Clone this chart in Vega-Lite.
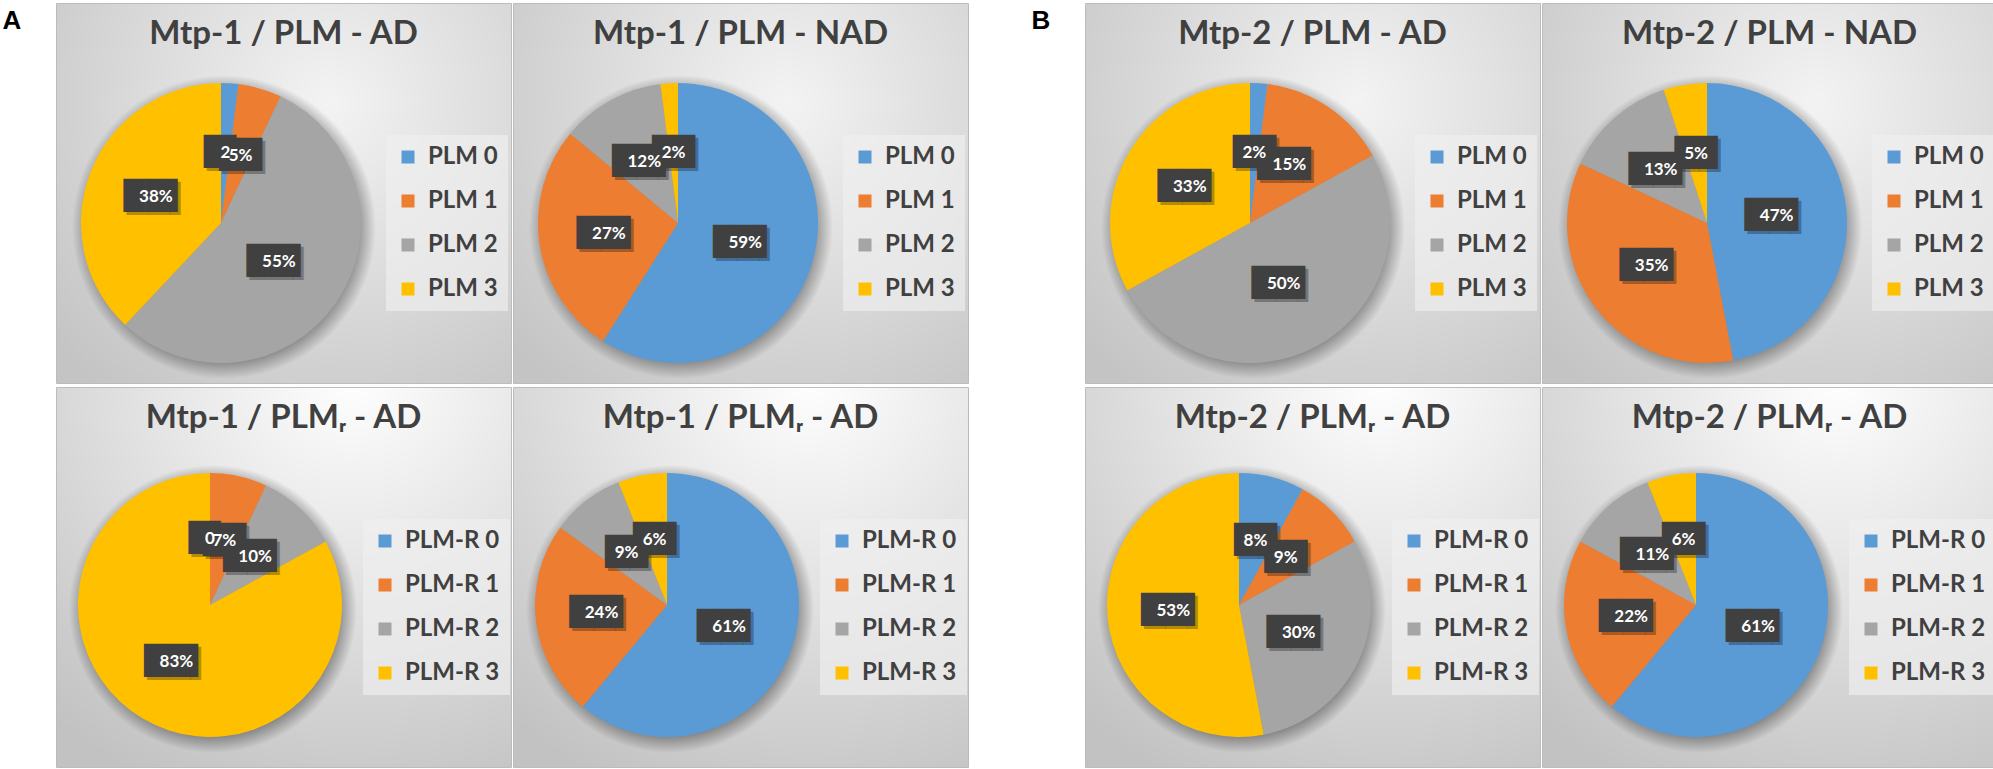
{
  "$schema": "https://vega.github.io/schema/vega-lite/v6.json",
  "background": "white",
  "padding": {"left": 2, "top": 2, "right": 0, "bottom": 0},
  "config": {
    "title": {"font": "Lato", "fontSize": 33, "fontWeight": "bold", "color": "#404040", "anchor": "middle", "baseline": "alphabetic"},
    "legend": {
      "orient": "none", "legendY": 132, "symbolType": "square", "symbolSize": 169, "symbolStrokeWidth": 0, "symbolOpacity": 1,
      "labelFont": "Lato", "labelFontSize": 24, "labelFontWeight": "bold", "labelColor": "#404040", "labelOffset": 8,
      "rowPadding": 20, "padding": 10, "fillColor": "rgba(240,240,240,0.65)"
    }
  },
  "hconcat": [
    {
      "title": {"text": "A", "orient": "top", "anchor": "start", "dx": -53, "offset": -31, "font": "Liberation Sans", "fontSize": 26, "fontWeight": "bold", "color": "#000000"},
      "spacing": 2,
      "resolve": {"scale": {"color": "independent", "theta": "independent"}, "legend": {"color": "independent"}},
      "vconcat": [
        {
          "spacing": 0,
          "resolve": {"scale": {"color": "independent", "theta": "independent"}, "legend": {"color": "independent"}},
          "hconcat": [
            {
              "width": 455, "height": 380,
              "view": {"stroke": "#bcbcbc", "fill": {"gradient": "radial", "x1": 0.6, "y1": 0.3, "r1": 0, "x2": 0.6, "y2": 0.3, "r2": 0.8, "stops": [{"offset": 0, "color": "#f3f3f3"}, {"offset": 1, "color": "#c4c4c4"}]}},
              "title": {"text": "Mtp-1 / PLM - AD", "offset": -48},
              "data": {"values": [
                {"cat": "PLM 0", "value": 2, "label": "2"},
                {"cat": "PLM 1", "value": 5, "label": "5%"},
                {"cat": "PLM 2", "value": 55, "label": "55%"},
                {"cat": "PLM 3", "value": 38, "label": "38%"}
              ]},
              "layer": [
                {"data": {"values": [{"k": "shadow"}]}, "mark": {"type": "arc", "theta": 6.2832, "radius": 152, "x": 168, "y": 224, "color": {"gradient": "radial", "x1": 0.5, "y1": 0.5, "r1": 0, "x2": 0.5, "y2": 0.5, "r2": 0.5, "stops": [{"offset": 0.88, "color": "rgba(0,0,0,0.35)"}, {"offset": 1, "color": "rgba(0,0,0,0)"}]}}},
                {"mark": {"type": "arc", "radius": 140, "x": 165, "y": 220},
                 "encoding": {"theta": {"field": "value", "type": "quantitative", "stack": true}, "order": {"field": "cat"},
                   "color": {"field": "cat", "type": "nominal", "scale": {"domain": ["PLM 0", "PLM 1", "PLM 2", "PLM 3"], "range": ["#5B9BD5", "#ED7D31", "#A5A5A5", "#FFC000"]}, "legend": {"title": null, "legendX": 330}}}},
                {"mark": {"type": "text", "radius": 70, "x": 165, "y": 220, "dx": 3, "dy": 3, "font": "DejaVu Sans", "fontSize": 28, "align": "center", "baseline": "middle", "color": "rgba(0,0,0,0.28)"},
                 "encoding": {"theta": {"field": "value", "type": "quantitative", "stack": true}, "order": {"field": "cat"},
                   "text": {"condition": [{"test": "length(datum.label) > 2", "value": "\u2588\u2588\u258c"}, {"test": "length(datum.label) > 1", "value": "\u2588\u2588"}], "value": "\u2588\u258c"}}},
                {"mark": {"type": "text", "radius": 70, "x": 165, "y": 220, "font": "DejaVu Sans", "fontSize": 28, "align": "center", "baseline": "middle", "color": "#404040"},
                 "encoding": {"theta": {"field": "value", "type": "quantitative", "stack": true}, "order": {"field": "cat"},
                   "text": {"condition": [{"test": "length(datum.label) > 2", "value": "\u2588\u2588\u258c"}, {"test": "length(datum.label) > 1", "value": "\u2588\u2588"}], "value": "\u2588\u258c"}}},
                {"mark": {"type": "text", "radius": 70, "x": 165, "y": 220, "font": "Lato", "fontSize": 17, "fontWeight": "bold", "align": "center", "baseline": "middle", "color": "#ffffff"},
                 "encoding": {"theta": {"field": "value", "type": "quantitative", "stack": true}, "order": {"field": "cat"}, "text": {"field": "label"}}}
              ]
            },
            {
              "width": 455, "height": 380,
              "view": {"stroke": "#bcbcbc", "fill": {"gradient": "radial", "x1": 0.6, "y1": 0.3, "r1": 0, "x2": 0.6, "y2": 0.3, "r2": 0.8, "stops": [{"offset": 0, "color": "#f3f3f3"}, {"offset": 1, "color": "#c4c4c4"}]}},
              "title": {"text": "Mtp-1 / PLM - NAD", "offset": -48},
              "data": {"values": [
                {"cat": "PLM 0", "value": 59, "label": "59%"},
                {"cat": "PLM 1", "value": 27, "label": "27%"},
                {"cat": "PLM 2", "value": 12, "label": "12%"},
                {"cat": "PLM 3", "value": 2, "label": "2%"}
              ]},
              "layer": [
                {"data": {"values": [{"k": "shadow"}]}, "mark": {"type": "arc", "theta": 6.2832, "radius": 152, "x": 168, "y": 224, "color": {"gradient": "radial", "x1": 0.5, "y1": 0.5, "r1": 0, "x2": 0.5, "y2": 0.5, "r2": 0.5, "stops": [{"offset": 0.88, "color": "rgba(0,0,0,0.35)"}, {"offset": 1, "color": "rgba(0,0,0,0)"}]}}},
                {"mark": {"type": "arc", "radius": 140, "x": 165, "y": 220},
                 "encoding": {"theta": {"field": "value", "type": "quantitative", "stack": true}, "order": {"field": "cat"},
                   "color": {"field": "cat", "type": "nominal", "scale": {"domain": ["PLM 0", "PLM 1", "PLM 2", "PLM 3"], "range": ["#5B9BD5", "#ED7D31", "#A5A5A5", "#FFC000"]}, "legend": {"title": null, "legendX": 330}}}},
                {"mark": {"type": "text", "radius": 70, "x": 165, "y": 220, "dx": 3, "dy": 3, "font": "DejaVu Sans", "fontSize": 28, "align": "center", "baseline": "middle", "color": "rgba(0,0,0,0.28)"},
                 "encoding": {"theta": {"field": "value", "type": "quantitative", "stack": true}, "order": {"field": "cat"},
                   "text": {"condition": [{"test": "length(datum.label) > 2", "value": "\u2588\u2588\u258c"}, {"test": "length(datum.label) > 1", "value": "\u2588\u2588"}], "value": "\u2588\u258c"}}},
                {"mark": {"type": "text", "radius": 70, "x": 165, "y": 220, "font": "DejaVu Sans", "fontSize": 28, "align": "center", "baseline": "middle", "color": "#404040"},
                 "encoding": {"theta": {"field": "value", "type": "quantitative", "stack": true}, "order": {"field": "cat"},
                   "text": {"condition": [{"test": "length(datum.label) > 2", "value": "\u2588\u2588\u258c"}, {"test": "length(datum.label) > 1", "value": "\u2588\u2588"}], "value": "\u2588\u258c"}}},
                {"mark": {"type": "text", "radius": 70, "x": 165, "y": 220, "font": "Lato", "fontSize": 17, "fontWeight": "bold", "align": "center", "baseline": "middle", "color": "#ffffff"},
                 "encoding": {"theta": {"field": "value", "type": "quantitative", "stack": true}, "order": {"field": "cat"}, "text": {"field": "label"}}}
              ]
            }
          ]
        },
        {
          "spacing": 0,
          "resolve": {"scale": {"color": "independent", "theta": "independent"}, "legend": {"color": "independent"}},
          "hconcat": [
            {
              "width": 455, "height": 380,
              "view": {"stroke": "#bcbcbc", "fill": {"gradient": "radial", "x1": 0.65, "y1": 0.05, "r1": 0, "x2": 0.65, "y2": 0.05, "r2": 1, "stops": [{"offset": 0, "color": "#ffffff"}, {"offset": 1, "color": "#c2c2c2"}]}},
              "title": {"text": "Mtp-1 / PLMᵣ - AD", "offset": -48},
              "data": {"values": [
                {"cat": "PLM-R 0", "value": 0, "label": "0"},
                {"cat": "PLM-R 1", "value": 7, "label": "7%"},
                {"cat": "PLM-R 2", "value": 10, "label": "10%"},
                {"cat": "PLM-R 3", "value": 83, "label": "83%"}
              ]},
              "layer": [
                {"data": {"values": [{"k": "shadow"}]}, "mark": {"type": "arc", "theta": 6.2832, "radius": 144, "x": 157, "y": 222, "color": {"gradient": "radial", "x1": 0.5, "y1": 0.5, "r1": 0, "x2": 0.5, "y2": 0.5, "r2": 0.5, "stops": [{"offset": 0.88, "color": "rgba(0,0,0,0.35)"}, {"offset": 1, "color": "rgba(0,0,0,0)"}]}}},
                {"mark": {"type": "arc", "radius": 132, "x": 154, "y": 218},
                 "encoding": {"theta": {"field": "value", "type": "quantitative", "stack": true}, "order": {"field": "cat"},
                   "color": {"field": "cat", "type": "nominal", "scale": {"domain": ["PLM-R 0", "PLM-R 1", "PLM-R 2", "PLM-R 3"], "range": ["#5B9BD5", "#ED7D31", "#A5A5A5", "#FFC000"]}, "legend": {"title": null, "legendX": 307}}}},
                {"mark": {"type": "text", "radius": 66, "x": 154, "y": 218, "dx": 3, "dy": 3, "font": "DejaVu Sans", "fontSize": 28, "align": "center", "baseline": "middle", "color": "rgba(0,0,0,0.28)"},
                 "encoding": {"theta": {"field": "value", "type": "quantitative", "stack": true}, "order": {"field": "cat"},
                   "text": {"condition": [{"test": "length(datum.label) > 2", "value": "\u2588\u2588\u258c"}, {"test": "length(datum.label) > 1", "value": "\u2588\u2588"}], "value": "\u2588\u258c"}}},
                {"mark": {"type": "text", "radius": 66, "x": 154, "y": 218, "font": "DejaVu Sans", "fontSize": 28, "align": "center", "baseline": "middle", "color": "#404040"},
                 "encoding": {"theta": {"field": "value", "type": "quantitative", "stack": true}, "order": {"field": "cat"},
                   "text": {"condition": [{"test": "length(datum.label) > 2", "value": "\u2588\u2588\u258c"}, {"test": "length(datum.label) > 1", "value": "\u2588\u2588"}], "value": "\u2588\u258c"}}},
                {"mark": {"type": "text", "radius": 66, "x": 154, "y": 218, "font": "Lato", "fontSize": 17, "fontWeight": "bold", "align": "center", "baseline": "middle", "color": "#ffffff"},
                 "encoding": {"theta": {"field": "value", "type": "quantitative", "stack": true}, "order": {"field": "cat"}, "text": {"field": "label"}}}
              ]
            },
            {
              "width": 455, "height": 380,
              "view": {"stroke": "#bcbcbc", "fill": {"gradient": "radial", "x1": 0.65, "y1": 0.05, "r1": 0, "x2": 0.65, "y2": 0.05, "r2": 1, "stops": [{"offset": 0, "color": "#ffffff"}, {"offset": 1, "color": "#c2c2c2"}]}},
              "title": {"text": "Mtp-1 / PLMᵣ - AD", "offset": -48},
              "data": {"values": [
                {"cat": "PLM-R 0", "value": 61, "label": "61%"},
                {"cat": "PLM-R 1", "value": 24, "label": "24%"},
                {"cat": "PLM-R 2", "value": 9, "label": "9%"},
                {"cat": "PLM-R 3", "value": 6, "label": "6%"}
              ]},
              "layer": [
                {"data": {"values": [{"k": "shadow"}]}, "mark": {"type": "arc", "theta": 6.2832, "radius": 144, "x": 157, "y": 222, "color": {"gradient": "radial", "x1": 0.5, "y1": 0.5, "r1": 0, "x2": 0.5, "y2": 0.5, "r2": 0.5, "stops": [{"offset": 0.88, "color": "rgba(0,0,0,0.35)"}, {"offset": 1, "color": "rgba(0,0,0,0)"}]}}},
                {"mark": {"type": "arc", "radius": 132, "x": 154, "y": 218},
                 "encoding": {"theta": {"field": "value", "type": "quantitative", "stack": true}, "order": {"field": "cat"},
                   "color": {"field": "cat", "type": "nominal", "scale": {"domain": ["PLM-R 0", "PLM-R 1", "PLM-R 2", "PLM-R 3"], "range": ["#5B9BD5", "#ED7D31", "#A5A5A5", "#FFC000"]}, "legend": {"title": null, "legendX": 307}}}},
                {"mark": {"type": "text", "radius": 66, "x": 154, "y": 218, "dx": 3, "dy": 3, "font": "DejaVu Sans", "fontSize": 28, "align": "center", "baseline": "middle", "color": "rgba(0,0,0,0.28)"},
                 "encoding": {"theta": {"field": "value", "type": "quantitative", "stack": true}, "order": {"field": "cat"},
                   "text": {"condition": [{"test": "length(datum.label) > 2", "value": "\u2588\u2588\u258c"}, {"test": "length(datum.label) > 1", "value": "\u2588\u2588"}], "value": "\u2588\u258c"}}},
                {"mark": {"type": "text", "radius": 66, "x": 154, "y": 218, "font": "DejaVu Sans", "fontSize": 28, "align": "center", "baseline": "middle", "color": "#404040"},
                 "encoding": {"theta": {"field": "value", "type": "quantitative", "stack": true}, "order": {"field": "cat"},
                   "text": {"condition": [{"test": "length(datum.label) > 2", "value": "\u2588\u2588\u258c"}, {"test": "length(datum.label) > 1", "value": "\u2588\u2588"}], "value": "\u2588\u258c"}}},
                {"mark": {"type": "text", "radius": 66, "x": 154, "y": 218, "font": "Lato", "fontSize": 17, "fontWeight": "bold", "align": "center", "baseline": "middle", "color": "#ffffff"},
                 "encoding": {"theta": {"field": "value", "type": "quantitative", "stack": true}, "order": {"field": "cat"}, "text": {"field": "label"}}}
              ]
            }
          ]
        }
      ]
    },
    {
      "title": {"text": "B", "orient": "top", "anchor": "start", "dx": -53, "offset": -31, "font": "Liberation Sans", "fontSize": 26, "fontWeight": "bold", "color": "#000000"},
      "spacing": 2,
      "resolve": {"scale": {"color": "independent", "theta": "independent"}, "legend": {"color": "independent"}},
      "vconcat": [
        {
          "spacing": 0,
          "resolve": {"scale": {"color": "independent", "theta": "independent"}, "legend": {"color": "independent"}},
          "hconcat": [
            {
              "width": 455, "height": 380,
              "view": {"stroke": "#bcbcbc", "fill": {"gradient": "radial", "x1": 0.6, "y1": 0.3, "r1": 0, "x2": 0.6, "y2": 0.3, "r2": 0.8, "stops": [{"offset": 0, "color": "#f3f3f3"}, {"offset": 1, "color": "#c4c4c4"}]}},
              "title": {"text": "Mtp-2 / PLM - AD", "offset": -48},
              "data": {"values": [
                {"cat": "PLM 0", "value": 2, "label": "2%"},
                {"cat": "PLM 1", "value": 15, "label": "15%"},
                {"cat": "PLM 2", "value": 50, "label": "50%"},
                {"cat": "PLM 3", "value": 33, "label": "33%"}
              ]},
              "layer": [
                {"data": {"values": [{"k": "shadow"}]}, "mark": {"type": "arc", "theta": 6.2832, "radius": 152, "x": 168, "y": 224, "color": {"gradient": "radial", "x1": 0.5, "y1": 0.5, "r1": 0, "x2": 0.5, "y2": 0.5, "r2": 0.5, "stops": [{"offset": 0.88, "color": "rgba(0,0,0,0.35)"}, {"offset": 1, "color": "rgba(0,0,0,0)"}]}}},
                {"mark": {"type": "arc", "radius": 140, "x": 165, "y": 220},
                 "encoding": {"theta": {"field": "value", "type": "quantitative", "stack": true}, "order": {"field": "cat"},
                   "color": {"field": "cat", "type": "nominal", "scale": {"domain": ["PLM 0", "PLM 1", "PLM 2", "PLM 3"], "range": ["#5B9BD5", "#ED7D31", "#A5A5A5", "#FFC000"]}, "legend": {"title": null, "legendX": 330}}}},
                {"mark": {"type": "text", "radius": 70, "x": 165, "y": 220, "dx": 3, "dy": 3, "font": "DejaVu Sans", "fontSize": 28, "align": "center", "baseline": "middle", "color": "rgba(0,0,0,0.28)"},
                 "encoding": {"theta": {"field": "value", "type": "quantitative", "stack": true}, "order": {"field": "cat"},
                   "text": {"condition": [{"test": "length(datum.label) > 2", "value": "\u2588\u2588\u258c"}, {"test": "length(datum.label) > 1", "value": "\u2588\u2588"}], "value": "\u2588\u258c"}}},
                {"mark": {"type": "text", "radius": 70, "x": 165, "y": 220, "font": "DejaVu Sans", "fontSize": 28, "align": "center", "baseline": "middle", "color": "#404040"},
                 "encoding": {"theta": {"field": "value", "type": "quantitative", "stack": true}, "order": {"field": "cat"},
                   "text": {"condition": [{"test": "length(datum.label) > 2", "value": "\u2588\u2588\u258c"}, {"test": "length(datum.label) > 1", "value": "\u2588\u2588"}], "value": "\u2588\u258c"}}},
                {"mark": {"type": "text", "radius": 70, "x": 165, "y": 220, "font": "Lato", "fontSize": 17, "fontWeight": "bold", "align": "center", "baseline": "middle", "color": "#ffffff"},
                 "encoding": {"theta": {"field": "value", "type": "quantitative", "stack": true}, "order": {"field": "cat"}, "text": {"field": "label"}}}
              ]
            },
            {
              "width": 455, "height": 380,
              "view": {"stroke": "#bcbcbc", "fill": {"gradient": "radial", "x1": 0.6, "y1": 0.3, "r1": 0, "x2": 0.6, "y2": 0.3, "r2": 0.8, "stops": [{"offset": 0, "color": "#f3f3f3"}, {"offset": 1, "color": "#c4c4c4"}]}},
              "title": {"text": "Mtp-2 / PLM - NAD", "offset": -48},
              "data": {"values": [
                {"cat": "PLM 0", "value": 47, "label": "47%"},
                {"cat": "PLM 1", "value": 35, "label": "35%"},
                {"cat": "PLM 2", "value": 13, "label": "13%"},
                {"cat": "PLM 3", "value": 5, "label": "5%"}
              ]},
              "layer": [
                {"data": {"values": [{"k": "shadow"}]}, "mark": {"type": "arc", "theta": 6.2832, "radius": 152, "x": 168, "y": 224, "color": {"gradient": "radial", "x1": 0.5, "y1": 0.5, "r1": 0, "x2": 0.5, "y2": 0.5, "r2": 0.5, "stops": [{"offset": 0.88, "color": "rgba(0,0,0,0.35)"}, {"offset": 1, "color": "rgba(0,0,0,0)"}]}}},
                {"mark": {"type": "arc", "radius": 140, "x": 165, "y": 220},
                 "encoding": {"theta": {"field": "value", "type": "quantitative", "stack": true}, "order": {"field": "cat"},
                   "color": {"field": "cat", "type": "nominal", "scale": {"domain": ["PLM 0", "PLM 1", "PLM 2", "PLM 3"], "range": ["#5B9BD5", "#ED7D31", "#A5A5A5", "#FFC000"]}, "legend": {"title": null, "legendX": 330}}}},
                {"mark": {"type": "text", "radius": 70, "x": 165, "y": 220, "dx": 3, "dy": 3, "font": "DejaVu Sans", "fontSize": 28, "align": "center", "baseline": "middle", "color": "rgba(0,0,0,0.28)"},
                 "encoding": {"theta": {"field": "value", "type": "quantitative", "stack": true}, "order": {"field": "cat"},
                   "text": {"condition": [{"test": "length(datum.label) > 2", "value": "\u2588\u2588\u258c"}, {"test": "length(datum.label) > 1", "value": "\u2588\u2588"}], "value": "\u2588\u258c"}}},
                {"mark": {"type": "text", "radius": 70, "x": 165, "y": 220, "font": "DejaVu Sans", "fontSize": 28, "align": "center", "baseline": "middle", "color": "#404040"},
                 "encoding": {"theta": {"field": "value", "type": "quantitative", "stack": true}, "order": {"field": "cat"},
                   "text": {"condition": [{"test": "length(datum.label) > 2", "value": "\u2588\u2588\u258c"}, {"test": "length(datum.label) > 1", "value": "\u2588\u2588"}], "value": "\u2588\u258c"}}},
                {"mark": {"type": "text", "radius": 70, "x": 165, "y": 220, "font": "Lato", "fontSize": 17, "fontWeight": "bold", "align": "center", "baseline": "middle", "color": "#ffffff"},
                 "encoding": {"theta": {"field": "value", "type": "quantitative", "stack": true}, "order": {"field": "cat"}, "text": {"field": "label"}}}
              ]
            }
          ]
        },
        {
          "spacing": 0,
          "resolve": {"scale": {"color": "independent", "theta": "independent"}, "legend": {"color": "independent"}},
          "hconcat": [
            {
              "width": 455, "height": 380,
              "view": {"stroke": "#bcbcbc", "fill": {"gradient": "radial", "x1": 0.65, "y1": 0.05, "r1": 0, "x2": 0.65, "y2": 0.05, "r2": 1, "stops": [{"offset": 0, "color": "#ffffff"}, {"offset": 1, "color": "#c2c2c2"}]}},
              "title": {"text": "Mtp-2 / PLMᵣ - AD", "offset": -48},
              "data": {"values": [
                {"cat": "PLM-R 0", "value": 8, "label": "8%"},
                {"cat": "PLM-R 1", "value": 9, "label": "9%"},
                {"cat": "PLM-R 2", "value": 30, "label": "30%"},
                {"cat": "PLM-R 3", "value": 53, "label": "53%"}
              ]},
              "layer": [
                {"data": {"values": [{"k": "shadow"}]}, "mark": {"type": "arc", "theta": 6.2832, "radius": 144, "x": 157, "y": 222, "color": {"gradient": "radial", "x1": 0.5, "y1": 0.5, "r1": 0, "x2": 0.5, "y2": 0.5, "r2": 0.5, "stops": [{"offset": 0.88, "color": "rgba(0,0,0,0.35)"}, {"offset": 1, "color": "rgba(0,0,0,0)"}]}}},
                {"mark": {"type": "arc", "radius": 132, "x": 154, "y": 218},
                 "encoding": {"theta": {"field": "value", "type": "quantitative", "stack": true}, "order": {"field": "cat"},
                   "color": {"field": "cat", "type": "nominal", "scale": {"domain": ["PLM-R 0", "PLM-R 1", "PLM-R 2", "PLM-R 3"], "range": ["#5B9BD5", "#ED7D31", "#A5A5A5", "#FFC000"]}, "legend": {"title": null, "legendX": 307}}}},
                {"mark": {"type": "text", "radius": 66, "x": 154, "y": 218, "dx": 3, "dy": 3, "font": "DejaVu Sans", "fontSize": 28, "align": "center", "baseline": "middle", "color": "rgba(0,0,0,0.28)"},
                 "encoding": {"theta": {"field": "value", "type": "quantitative", "stack": true}, "order": {"field": "cat"},
                   "text": {"condition": [{"test": "length(datum.label) > 2", "value": "\u2588\u2588\u258c"}, {"test": "length(datum.label) > 1", "value": "\u2588\u2588"}], "value": "\u2588\u258c"}}},
                {"mark": {"type": "text", "radius": 66, "x": 154, "y": 218, "font": "DejaVu Sans", "fontSize": 28, "align": "center", "baseline": "middle", "color": "#404040"},
                 "encoding": {"theta": {"field": "value", "type": "quantitative", "stack": true}, "order": {"field": "cat"},
                   "text": {"condition": [{"test": "length(datum.label) > 2", "value": "\u2588\u2588\u258c"}, {"test": "length(datum.label) > 1", "value": "\u2588\u2588"}], "value": "\u2588\u258c"}}},
                {"mark": {"type": "text", "radius": 66, "x": 154, "y": 218, "font": "Lato", "fontSize": 17, "fontWeight": "bold", "align": "center", "baseline": "middle", "color": "#ffffff"},
                 "encoding": {"theta": {"field": "value", "type": "quantitative", "stack": true}, "order": {"field": "cat"}, "text": {"field": "label"}}}
              ]
            },
            {
              "width": 455, "height": 380,
              "view": {"stroke": "#bcbcbc", "fill": {"gradient": "radial", "x1": 0.65, "y1": 0.05, "r1": 0, "x2": 0.65, "y2": 0.05, "r2": 1, "stops": [{"offset": 0, "color": "#ffffff"}, {"offset": 1, "color": "#c2c2c2"}]}},
              "title": {"text": "Mtp-2 / PLMᵣ - AD", "offset": -48},
              "data": {"values": [
                {"cat": "PLM-R 0", "value": 61, "label": "61%"},
                {"cat": "PLM-R 1", "value": 22, "label": "22%"},
                {"cat": "PLM-R 2", "value": 11, "label": "11%"},
                {"cat": "PLM-R 3", "value": 6, "label": "6%"}
              ]},
              "layer": [
                {"data": {"values": [{"k": "shadow"}]}, "mark": {"type": "arc", "theta": 6.2832, "radius": 144, "x": 157, "y": 222, "color": {"gradient": "radial", "x1": 0.5, "y1": 0.5, "r1": 0, "x2": 0.5, "y2": 0.5, "r2": 0.5, "stops": [{"offset": 0.88, "color": "rgba(0,0,0,0.35)"}, {"offset": 1, "color": "rgba(0,0,0,0)"}]}}},
                {"mark": {"type": "arc", "radius": 132, "x": 154, "y": 218},
                 "encoding": {"theta": {"field": "value", "type": "quantitative", "stack": true}, "order": {"field": "cat"},
                   "color": {"field": "cat", "type": "nominal", "scale": {"domain": ["PLM-R 0", "PLM-R 1", "PLM-R 2", "PLM-R 3"], "range": ["#5B9BD5", "#ED7D31", "#A5A5A5", "#FFC000"]}, "legend": {"title": null, "legendX": 307}}}},
                {"mark": {"type": "text", "radius": 66, "x": 154, "y": 218, "dx": 3, "dy": 3, "font": "DejaVu Sans", "fontSize": 28, "align": "center", "baseline": "middle", "color": "rgba(0,0,0,0.28)"},
                 "encoding": {"theta": {"field": "value", "type": "quantitative", "stack": true}, "order": {"field": "cat"},
                   "text": {"condition": [{"test": "length(datum.label) > 2", "value": "\u2588\u2588\u258c"}, {"test": "length(datum.label) > 1", "value": "\u2588\u2588"}], "value": "\u2588\u258c"}}},
                {"mark": {"type": "text", "radius": 66, "x": 154, "y": 218, "font": "DejaVu Sans", "fontSize": 28, "align": "center", "baseline": "middle", "color": "#404040"},
                 "encoding": {"theta": {"field": "value", "type": "quantitative", "stack": true}, "order": {"field": "cat"},
                   "text": {"condition": [{"test": "length(datum.label) > 2", "value": "\u2588\u2588\u258c"}, {"test": "length(datum.label) > 1", "value": "\u2588\u2588"}], "value": "\u2588\u258c"}}},
                {"mark": {"type": "text", "radius": 66, "x": 154, "y": 218, "font": "Lato", "fontSize": 17, "fontWeight": "bold", "align": "center", "baseline": "middle", "color": "#ffffff"},
                 "encoding": {"theta": {"field": "value", "type": "quantitative", "stack": true}, "order": {"field": "cat"}, "text": {"field": "label"}}}
              ]
            }
          ]
        }
      ]
    }
  ],
  "spacing": 62,
  "resolve": {"scale": {"color": "independent", "theta": "independent"}, "legend": {"color": "independent"}}
}
